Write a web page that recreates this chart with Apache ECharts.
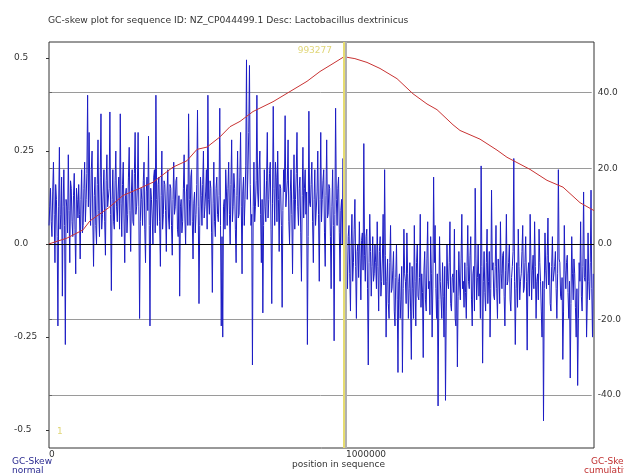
<!DOCTYPE html>
<html>
<head>
<meta charset="utf-8">
<script src="https://cdn.jsdelivr.net/npm/echarts@6/dist/echarts.min.js"></script>
<style>
  html, body { margin: 0; padding: 0; background: #fff; }
  #main { width: 624px; height: 474px; }
</style>
</head>
<body>
<div id="main"></div>
<script>
// window size used for the gc-skew windows (bp)
var windowStep = 2500;
var seqLength = 1835000;
var originPos = 1;
var maxPos = 993277;

// gc-skew per window
var skew = [
  0.05,0.1, 0.15,0.06, 0.02,0.14, 0.22,0.08, -0.05,0.16, 0.12,0.02, -0.22,0.1, 0.26,0.04, 0.08,0.18, -0.14,0.1, 0.2,0.05, -0.27,0.12, 0.1,0.03, 0.24,0.09, -0.05,0.17, 0.15,0.06, 0.02,0.13, 0.19,0.04, -0.08,0.15, 0.12,0.07,
  0.16,0.08, -0.04,0.12, 0.2,0.03, 0.05,0.15, 0.22,0.06, 0.12,0.19, 0.4,0.1, 0.3,0.14, 0.05,0.2, 0.25,0.07, -0.06,0.13, 0.18,0.05, 0.0,0.16, 0.28,0.09, 0.02,0.18, 0.35,0.04, 0.08,0.14, 0.2,0.06, -0.03,0.17, 0.24,0.1,
  0.1,0.15, 0.355,0.08, -0.125,0.12, 0.2,0.06, 0.04,0.17, 0.25,0.1, 0.06,0.14, 0.18,0.04, 0.35,0.11, 0.02,0.16, 0.22,0.07, -0.05,0.13, 0.15,0.03, 0.08,0.18, 0.26,0.09, -0.02,0.14, 0.2,0.06, 0.05,0.19, 0.3,0.08, 0.1,0.15,
  0.3,0.1, -0.2,0.06, 0.15,0.12, 0.05,0.17, 0.22,0.04, -0.05,0.14, 0.18,0.09, 0.29,0.05, -0.22,0.15, 0.12,0.07, 0.0,0.18, 0.2,0.03, 0.4,0.12, 0.05,0.16, 0.18,0.06, -0.06,0.13, 0.25,0.04, 0.08,0.17, 0.16,0.09, -0.02,0.14,
  0.2,0.07, 0.04,0.16, 0.15,0.05, -0.03,0.12, 0.22,0.08, 0.1,0.17, 0.18,0.04, 0.02,0.13, -0.14,0.1, 0.12,0.03, 0.06,0.15, 0.24,0.07, 0.0,0.14, 0.16,0.05, 0.35,0.12, 0.05,0.18, 0.2,0.06, -0.04,0.11, 0.14,0.03, 0.08,0.16,
  0.36,0.1, -0.16,0.05, 0.18,0.13, 0.05,0.16, 0.25,0.07, 0.1,0.14, 0.2,0.04, 0.4,0.12, 0.08,0.17, 0.15,0.03, -0.13,0.11, 0.22,0.06, 0.02,0.15, 0.18,0.08, 0.06,0.13, 0.365,0.05, -0.22,0.02, -0.25,0.1, 0.12,0.04, 0.2,0.14,
  0.05,0.15, 0.22,0.08, 0.0,0.16, 0.28,0.06, 0.1,0.19, 0.15,0.04, -0.05,0.13, 0.25,0.07, 0.08,0.18, 0.3,0.1, -0.08,0.14, 0.18,0.05, 0.12,0.21, 0.495,0.12, 0.2,0.3, 0.48,0.16, 0.05,0.08, -0.325,0.1, 0.22,0.06, 0.1,0.17,
  0.4,0.14, 0.1,0.2, 0.25,0.08, -0.05,0.12, -0.185,0.05, 0.2,0.1, 0.06,0.17, 0.3,0.07, 0.12,0.19, 0.22,0.04, -0.16,0.11, 0.37,0.15, 0.05,0.22, 0.18,0.06, 0.25,0.12, -0.02,0.16, 0.15,0.05, -0.17,0.09, 0.2,0.14, 0.345,0.1,
  0.1,0.17, 0.28,0.06, 0.0,0.14, 0.2,0.08, -0.08,0.12, 0.24,0.04, 0.12,0.19, 0.3,0.1, 0.05,0.15, 0.18,0.03, -0.1,0.13, 0.26,0.07, 0.15,0.2, 0.08,0.14, -0.27,0.02, 0.357,0.11, 0.1,0.16, 0.22,0.06, -0.05,0.12, 0.2,0.05,
  0.05,0.14, 0.25,0.08, -0.1,0.12, 0.3,0.06, 0.12,0.17, 0.2,0.03, -0.06,0.13, 0.28,0.07, 0.08,0.16, 0.15,0.02, -0.12,0.1, 0.2,0.05, -0.26,0.08, 0.365,0.12, 0.05,0.15, 0.18,0.03, -0.1,0.09, 0.12,0.0, 0.23,0.06, -0.31,0.02,
  0.1,-0.04, -0.12,0.02, 0.05,-0.08, -0.18,0.0, 0.08,-0.1, -0.05,0.04, 0.12,-0.06, -0.2,-0.02, 0.0,-0.09, 0.06,-0.04, -0.15,0.01, 0.03,-0.07, 0.27,-0.03, -0.1,0.02, 0.04,-0.12, -0.325,-0.05, 0.08,-0.02, -0.14,-0.06, 0.02,-0.1, -0.08,0.0,
  -0.05,-0.12, 0.06,-0.06, -0.18,-0.02, 0.02,-0.14, -0.1,-0.04, 0.08,-0.11, 0.2,-0.03, -0.25,-0.1, -0.04,-0.16, -0.2,-0.05, 0.05,-0.13, -0.12,-0.07, -0.02,-0.18, -0.22,-0.09, 0.0,-0.15, -0.345,-0.1, -0.08,-0.2, -0.15,-0.06, -0.345,-0.12, 0.04,-0.08,
  -0.1,-0.16, 0.03,-0.08, -0.2,-0.12, -0.05,-0.18, -0.31,-0.06, -0.12,-0.2, 0.05,-0.1, -0.22,-0.05, 0.0,-0.14, -0.15,-0.09, 0.08,-0.17, -0.08,-0.13, -0.305,-0.07, -0.02,-0.15, -0.18,-0.04, 0.06,-0.12, -0.1,-0.19, 0.02,-0.08, -0.25,-0.11, 0.18,-0.05,
  0.05,-0.12, -0.2,-0.08, -0.435,-0.15, 0.02,-0.1, -0.15,-0.2, -0.05,-0.14, -0.25,-0.06, -0.42,-0.18, 0.0,-0.1, -0.12,-0.05, 0.06,-0.16, -0.18,-0.09, -0.08,-0.13, 0.04,-0.2, -0.22,-0.07, -0.33,-0.14, -0.02,-0.11, -0.15,-0.04, 0.08,-0.12, -0.1,-0.17,
  -0.05,-0.13, -0.2,-0.06, 0.05,-0.1, -0.12,-0.03, 0.02,-0.15, -0.22,-0.08, -0.06,-0.18, 0.15,-0.04, -0.15,-0.09, 0.0,-0.14, -0.08,-0.2, 0.21,-0.06, -0.32,-0.1, -0.02,-0.13, -0.18,-0.05, 0.04,-0.16, -0.1,-0.02, -0.25,-0.12, 0.145,-0.07, -0.05,-0.14,
  -0.15,-0.06, 0.05,-0.12, -0.2,-0.04, -0.08,-0.16, 0.06,-0.08, -0.12,-0.03, -0.02,-0.14, -0.22,-0.07, 0.08,-0.11, -0.1,-0.05, 0.0,-0.15, -0.18,-0.09, -0.06,-0.02, 0.23,-0.1, -0.27,-0.12, -0.05,-0.17, 0.04,-0.06, -0.15,-0.1, -0.08,-0.02, 0.05,-0.13,
  -0.12,-0.05, 0.02,-0.1, -0.285,-0.08, -0.05,-0.14, 0.08,-0.04, -0.15,-0.07, -0.03,-0.12, 0.06,-0.06, -0.2,-0.1, -0.08,-0.15, 0.04,-0.05, -0.1,-0.18, -0.25,-0.1, -0.475,-0.12, 0.03,-0.07, -0.12,-0.03, 0.07,-0.11, -0.05,-0.16, -0.18,-0.06, 0.02,-0.1,
  -0.1,-0.06, -0.02,-0.12, -0.2,-0.08, 0.2,-0.04, -0.05,-0.14, -0.15,-0.09, -0.31,-0.18, 0.05,-0.07, -0.12,-0.05, -0.03,-0.13, -0.2,-0.1, -0.36,-0.16, 0.02,-0.08, -0.15,-0.04, -0.08,-0.17, -0.25,-0.12, -0.38,-0.2, -0.05,-0.1, 0.06,-0.14, -0.18,-0.06, 0.14,-0.09, -0.1,-0.04, -0.25,-0.15, 0.03,-0.1, -0.15,-0.05, 0.145,-0.12, -0.25,-0.08
];

// cumulative gc-skew
var cumPos = [0, 60000, 114478, 138047, 200000, 249158, 300000, 350168, 417508, 464646, 498316, 531986, 575757, 609427,
  643097, 686868, 754208, 811447, 868686, 912457, 956228, 993277, 1030000, 1070707, 1114478, 1171717, 1225589,
  1272727, 1306397, 1360269, 1383838, 1451178, 1508417, 1542087, 1619528, 1676767, 1730639, 1787878, 1835000];
var cumVal = [0, 1.5, 3.7, 6.1, 9.5, 12.8, 14.5, 16.3, 20.3, 22, 25, 25.6, 28.3, 31,
  32.4, 35, 37.6, 40.3, 43, 45.6, 47.7, 49.5, 49, 48, 46.4, 43.7, 39.7,
  37, 35.5, 31.5, 30, 27.7, 24.8, 22.9, 19.7, 16.8, 15, 10.9, 8.8];

var leftTicks = [-0.5, 0.5, 0.25];   // min, max, interval
var rightTicks = [-40, 40, 20];

var skewData = skew.map(function (v, i) { return [i * windowStep, v]; });
var cumData = cumPos.map(function (p, i) { return [p, cumVal[i]]; });

var font = 'DejaVu Sans';
var chart = echarts.init(document.getElementById('main'));

var option = {
  animation: false,
  textStyle: { fontFamily: font },
  grid: [
    { left: 49, right: 30, top: 42, bottom: 26, show: true, borderColor: '#333', borderWidth: 1, backgroundColor: 'transparent' },
    { left: 49, right: 30, top: 58, bottom: 44 },
    { left: 49, right: 30, top: 92.7, bottom: 79 }
  ],
  xAxis: [
    {
      gridIndex: 0, type: 'value', min: 0, max: seqLength, interval: 1000000,
      axisLine: { show: false }, axisTick: { show: false }, splitLine: { show: false },
      axisLabel: {
        showMaxLabel: false, align: 'left', margin: 2, color: '#333', fontSize: 9, fontFamily: font,
        formatter: function (v) { return String(v); }
      }
    },
    { gridIndex: 1, type: 'value', show: false },
    { gridIndex: 2, type: 'value', show: false }
  ],
  yAxis: [
    { gridIndex: 0, type: 'value', min: -0.548, max: 0.543, show: false },
    { gridIndex: 0, type: 'value', min: -54.0, max: 53.4, show: false, position: 'right' },
    {
      gridIndex: 1, type: 'value', min: leftTicks[0], max: leftTicks[1], interval: leftTicks[2], position: 'left',
      axisLine: { show: false },
      axisTick: { show: true, length: 3, lineStyle: { color: '#333' } },
      splitLine: { show: false },
      axisLabel: {
        align: 'left', margin: 35, color: '#333', fontSize: 9, fontFamily: font, padding: [0, 0, 7, 0],
        formatter: function (v) { return v === 0 ? '0.0' : String(v); }
      }
    },
    {
      gridIndex: 2, type: 'value', min: rightTicks[0], max: rightTicks[1], interval: rightTicks[2], position: 'right',
      axisLine: { show: false },
      axisTick: { show: true, length: 3, lineStyle: { color: '#666' } },
      splitLine: { show: true, lineStyle: { color: '#9a9a9a', width: 1 } },
      axisLabel: {
        align: 'left', margin: 6, color: '#333', fontSize: 9, fontFamily: font, padding: [0, 0, 7, 0],
        formatter: function (v) { return v.toFixed(1); }
      }
    }
  ],
  graphic: [
    { type: 'text', left: 48, top: 16, style: { text: 'GC-skew plot for sequence ID: NZ_CP044499.1 Desc: Lactobacillus dextrinicus', fill: '#333', font: '9.2px "DejaVu Sans"' } },
    { type: 'text', left: 292, top: 460, style: { text: 'position in sequence', fill: '#333', font: '9px "DejaVu Sans"' } },
    { type: 'text', left: 12, top: 457, style: { text: 'GC-Skew', fill: '#2a2a90', font: '9px "DejaVu Sans"' } },
    { type: 'text', left: 12, top: 466, style: { text: 'normal', fill: '#2a2a90', font: '9px "DejaVu Sans"' } },
    { type: 'text', left: 591, top: 457, style: { text: 'GC-Skew', fill: '#c03030', font: '9px "DejaVu Sans"' } },
    { type: 'text', left: 584, top: 466, style: { text: 'cumulative', fill: '#c03030', font: '9px "DejaVu Sans"' } }
  ],
  series: [
    {
      name: 'GC-Skew normal', type: 'line', xAxisIndex: 0, yAxisIndex: 0,
      data: skewData, showSymbol: false, symbol: 'none',
      lineStyle: { color: '#1c1cc4', width: 1 },
      markLine: {
        silent: true, symbol: 'none',
        label: { show: false },
        lineStyle: { color: '#000', width: 1, type: 'solid' },
        data: [{ yAxis: 0 }]
      },
      z: 2
    },
    {
      name: 'GC-Skew cumulative', type: 'line', xAxisIndex: 0, yAxisIndex: 1,
      data: cumData, showSymbol: false, symbol: 'none',
      lineStyle: { color: '#c83232', width: 1 },
      markLine: {
        silent: true, symbol: 'none',
        label: { show: false },
        lineStyle: { color: '#e6dc70', width: 2, type: 'solid', shadowColor: '#b0b0b0', shadowOffsetX: 2, shadowBlur: 0 },
        data: [{ xAxis: maxPos }]
      },
      z: 3
    },
    {
      name: 'markers', type: 'scatter', xAxisIndex: 0, yAxisIndex: 0,
      symbolSize: 0, silent: true,
      data: [
        { value: [maxPos, 0.52], label: { position: 'left', distance: 12 } },
        { value: [originPos, -0.505], label: { position: 'right', distance: 8 } }
      ],
      label: {
        show: true, color: '#d8cc55', fontSize: 9, fontFamily: font,
        formatter: function (p) { return String(p.value[0]); }
      },
      z: 4
    }
  ]
};
chart.setOption(option);
</script>
</body>
</html>
